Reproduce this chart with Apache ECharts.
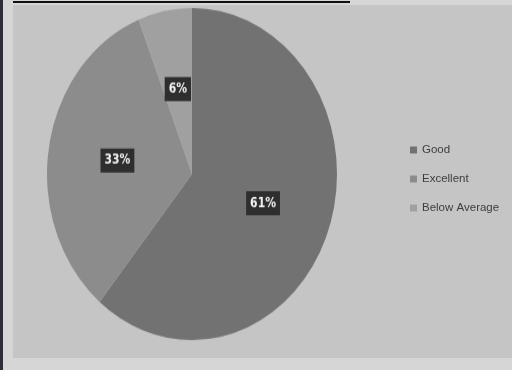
<!DOCTYPE html>
<html>
<head>
<meta charset="utf-8">
<script src="https://cdn.jsdelivr.net/npm/echarts@6/dist/echarts.min.js"></script>
<style>
  html, body { margin: 0; padding: 0; background: #d4d4d4; }
  #wrap { position: relative; width: 512px; height: 370px; overflow: hidden; }
  #main, #pie { position: absolute; left: 0; top: 0; width: 512px; height: 370px; }
  /* the photographed pie is an upright ellipse */
  #pie { transform: scale(1, 1.145); transform-origin: 192px 174px; }
</style>
</head>
<body>
<div id="wrap">
  <div id="main"></div>
  <div id="pie"></div>
</div>
<script>
// data
var categories = ['Good', 'Excellent', 'Below Average'];
var values = [61, 33, 6];
var colors = ['#727272', '#8c8c8c', '#a0a0a0'];

var pieData = categories.map(function (name, i) {
    return { name: name, value: values[i], itemStyle: { color: colors[i] } };
});

// page, frame and legend
var bgChart = echarts.init(document.getElementById('main'));
bgChart.setOption({
    backgroundColor: '#d6d6d6',
    animation: false,
    graphic: [
        { type: 'rect', shape: { x: 13, y: 5, width: 499, height: 353 }, style: { fill: '#c5c5c5' }, z: -10 },
        { type: 'rect', shape: { x: 0, y: 0, width: 3, height: 370 }, style: { fill: '#2e2e36' }, z: -9 },
        { type: 'line', shape: { x1: 13, y1: 2, x2: 350, y2: 2 }, style: { stroke: '#111', lineWidth: 2 }, z: -8 }
    ],
    legend: {
        orient: 'vertical',
        left: 405,
        top: 139,
        itemWidth: 7,
        itemHeight: 7,
        itemGap: 17,
        icon: 'rect',
        textStyle: { color: '#3e3e3e', fontSize: 11.5, fontFamily: 'Liberation Sans' },
        data: categories
    },
    // zero-size pie, only feeds the legend
    series: [{
        type: 'pie',
        radius: 0,
        data: pieData,
        label: { show: false },
        labelLine: { show: false },
        silent: true
    }]
});

// the pie itself
var pieChart = echarts.init(document.getElementById('pie'));
pieChart.setOption({
    animation: false,
    series: [{
        type: 'pie',
        center: [192, 174],
        radius: 145,
        startAngle: 90,
        clockwise: true,
        data: pieData,
        itemStyle: { borderWidth: 0 },
        label: {
            position: 'inside',
            formatter: '{d}%',
            color: '#f2f2f2',
            fontWeight: 'bold',
            fontSize: 12,
            fontFamily: 'DejaVu Sans Condensed',
            backgroundColor: '#2e2e2e',
            padding: [5, 4, 4, 4]
        },
        labelLine: { show: false },
        emphasis: { disabled: true }
    }]
});
</script>
</body>
</html>
